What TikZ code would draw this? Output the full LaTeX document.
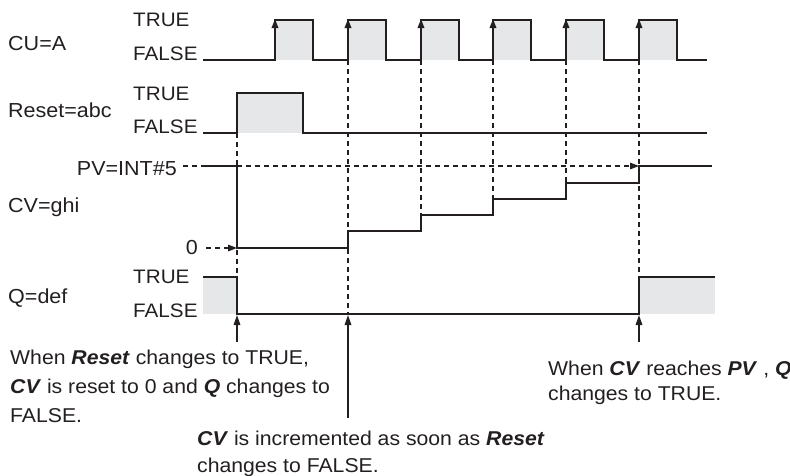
\documentclass[tikz,border=0pt]{standalone}
\usepackage{fontspec}
\setmainfont{Liberation Sans}[FakeStretch=1.06]
\usetikzlibrary{arrows.meta}
\definecolor{ink}{HTML}{231F20}
\definecolor{fillg}{HTML}{E6E7E8}
\begin{document}
\begin{tikzpicture}[x=1pt,y=-1pt,
  wave/.style={draw=ink,line width=1.8pt,line join=miter},
  guide/.style={draw=ink,line width=1.5pt,dash pattern=on 5pt off 4pt},
  tipa/.style={-{Triangle[length=9pt,width=6.5pt]}},
  pointer/.style={draw=ink,line width=1.6pt,-{Triangle[length=10pt,width=6.5pt]}},
  lbl/.style={font=\fontsize{20.3}{24}\selectfont,text=ink,inner sep=0pt,anchor=base west},
  lvl/.style={font=\fontsize{19.5}{23}\selectfont,text=ink,inner sep=0pt,anchor=base west},
  note/.style={font=\fontsize{20}{24}\selectfont,text=ink,inner sep=0pt,anchor=base west},
]
\useasboundingbox (0,0) rectangle (790,475);

% ---------- fills ----------
\foreach \r in {275,348,421,493,566,639} {\fill[fillg] (\r,20) rectangle (\r+38,60);}
\fill[fillg] (237,93) rectangle (303,133);
\fill[fillg] (203,277) rectangle (237,314);
\fill[fillg] (640,277) rectangle (715,314);

% ---------- guides ----------
\draw[guide] (237,133) -- (237,314);
\draw[guide] (348,60) -- (348,314);
\draw[guide] (421,60) -- (421,231);
\draw[guide] (493,60) -- (493,215);
\draw[guide] (566,60) -- (566,199);
\draw[guide] (639,60) -- (639,277);

% ---------- labels ----------
\node[lbl] (cu)    at (8,50)   {CU=A};
\node[lbl] (reset) at (8,117)  {Reset=abc};
\node[lbl] (cv)    at (8,212)  {CV=ghi};
\node[lbl] (q)     at (8,303)  {Q=def};
\node[lvl] (t1) at (133,26)  {TRUE};
\node[lvl] (f1) at (133,60)  {FALSE};
\node[lvl] (t2) at (133,100) {TRUE};
\node[lvl] (f2) at (133,133) {FALSE};
\node[lvl] (t3) at (133,283) {TRUE};
\node[lvl] (f3) at (133,317) {FALSE};
\node[lbl,anchor=base east] (pv)   at (177,175) {PV=INT\#5};
\node[lbl,anchor=base east] (zero) at (198,254) {0};

\coordinate (pvS) at (183,166);
\coordinate (pvT) at (639,166);
\coordinate (zS) at (206,248);
\coordinate (zT) at (237,248);
\draw[guide,tipa] (pvS) -- (pvT);
\draw[guide,tipa] (zS) -- (zT);

% ---------- waveforms ----------
\draw[wave] (203,60) -- (275,60) -- (275,20) -- (313,20) -- (313,60)
  -- (348,60) -- (348,20) -- (386,20) -- (386,60)
  -- (421,60) -- (421,20) -- (459,20) -- (459,60)
  -- (493,60) -- (493,20) -- (531,20) -- (531,60)
  -- (566,60) -- (566,20) -- (604,20) -- (604,60)
  -- (639,60) -- (639,20) -- (677,20) -- (677,60) -- (707,60);
\foreach \r in {275,348,421,493,566,639} {\draw[wave,tipa] (\r,50) -- (\r,19);}

\draw[wave] (203,133) -- (237,133) -- (237,93) -- (303,93) -- (303,133) -- (707,133);

\draw[wave] (203,166) -- (237,166) -- (237,248) -- (348,248) -- (348,231)
  -- (421,231) -- (421,215) -- (493,215) -- (493,199) -- (566,199)
  -- (566,183) -- (639,183) -- (639,166) -- (712,166);

\draw[wave] (203,277) -- (237,277) -- (237,314) -- (639,314) -- (639,277) -- (715,277);

% ---------- pointers ----------
\coordinate (a1S) at (237,342); \coordinate (a1T) at (237,315);
\coordinate (a2S) at (348,418); \coordinate (a2T) at (348,315);
\coordinate (a3S) at (639,342); \coordinate (a3T) at (639,315);
\draw[pointer] (a1S) -- (a1T);
\draw[pointer] (a2S) -- (a2T);
\draw[pointer] (a3S) -- (a3T);

% ---------- notes ----------
\node[note] (n1a) at (10,364) {When \textbf{\textit{Reset}} changes to TRUE,};
\node[note] (n1b) at (10,393) {\textbf{\textit{CV}} is reset to 0 and \textbf{\textit{Q}} changes to};
\node[note] (n1c) at (10,422) {FALSE.};
\node[note] (n2a) at (197,445) {\textbf{\textit{CV}} is incremented as soon as \textbf{\textit{Reset}}};
\node[note] (n2b) at (197,472) {changes to FALSE.};
\node[note] (n3a) at (548,375) {When \textbf{\textit{CV}} reaches \textbf{\textit{PV}} , \textbf{\textit{Q}}};
\node[note] (n3b) at (548,400) {changes to TRUE.};
\end{tikzpicture}
\end{document}
